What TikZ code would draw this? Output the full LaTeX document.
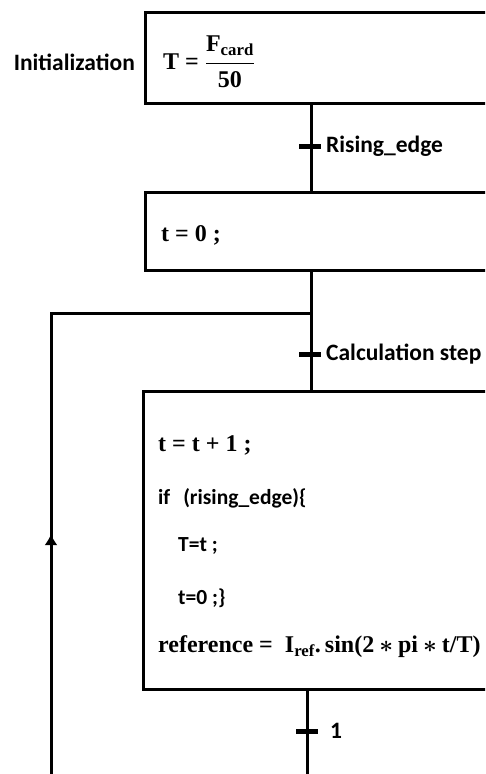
\RequirePackage{fix-cm}
\documentclass[tikz,border=0pt]{standalone}
\usepackage{amsmath}
\usepackage{fontspec}
\newfontfamily\lblfont{Carlito}[UprightFont={* Bold}, BoldFont={* Bold}]
\newfontfamily\mfont{Liberation Serif}[UprightFont={* Bold}, BoldFont={* Bold}]
\newcommand{\opstar}{\hspace{5pt}\ensuremath{\ast}\hspace{5pt}}
\usetikzlibrary{arrows.meta}
\tikzset{
  stepbox/.style={draw, line width=3pt, minimum width=380pt, anchor=north west, inner sep=0pt},
  tickbar/.style={fill=black, minimum width=22pt, minimum height=5pt, inner sep=0pt, draw=none},
  lbl/.style={font=\lblfont\fontsize{23.5}{28}\selectfont, inner sep=0pt},
  code/.style={font=\lblfont\fontsize{21.5}{25}\selectfont, inner sep=0pt, anchor=west},
  mth/.style={font=\mfont\fontsize{24}{28}\selectfont\boldmath, inner sep=0pt, anchor=west},
  conn/.style={line width=3pt},
}
\begin{document}
\begin{tikzpicture}[x=1pt,y=-1pt]
\path[use as bounding box, clip] (0,0) rectangle (485,774);
\fill[white] (0,0) rectangle (485,774);
% steps
\node[stepbox, minimum height=91pt] (s1) at (144,11) {};
\node[stepbox, minimum height=78pt] (s2) at (144,191) {};
\node[stepbox, minimum height=298pt] (s3) at (142,390) {};
\coordinate (axis) at (311,0);
\coordinate (axisb) at (307,0);
% texts
\node[lbl, anchor=east] (init) at (135,62) {Initialization};
\node[mth] (e1) at (163,62) {T\hspace{6pt}=\hspace{6pt}$\dfrac{\text{F\textsubscript{card}}}{\text{50}}$};
\node[mth] (e2) at (161,235) {t = 0 ;};
\node[mth] (e3) at (158,445) {t = t + 1 ;};
\node[code] (e4) at (158,498) {if\hspace{13pt}(rising\_edge)\{};
\node[code] (e5) at (178,546) {T=t ;};
\node[code] (e6) at (178,598) {t=0 ;\}};
\node[mth] (e7) at (158,647) {reference =\ \ I\textsubscript{ref}.\,sin(2\opstar pi\opstar t/T)};
% transitions
\node[tickbar] (t1) at (310,146) {};
\node[lbl, anchor=west] (l1) at (326,146) {Rising\_edge};
\node[tickbar] (t2) at (310,354) {};
\node[lbl, anchor=west] (l2) at (326,354) {Calculation step};
\node[tickbar] (t3) at (307,731) {};
\node[lbl, anchor=west] (l3) at (330,731) {1};
% connectors
\draw[conn] (s1.south -| axis) -- (s2.north -| axis);
\draw[conn] (s2.south -| axis) -- (s3.north -| axis);
\coordinate (loopend) at (51,774);
\coordinate (loopturn) at (51,313);
\coordinate (loopjoin) at (311,313);
\coordinate (bottom) at (307,774);
\draw[conn] (s3.south -| axisb) -- (bottom);
\draw[conn, -{Latex[length=11pt,width=13pt]}] (loopend) -- (51,534);
\draw[conn] (51,545) -- (loopturn) -- (loopjoin);
\end{tikzpicture}
\end{document}
